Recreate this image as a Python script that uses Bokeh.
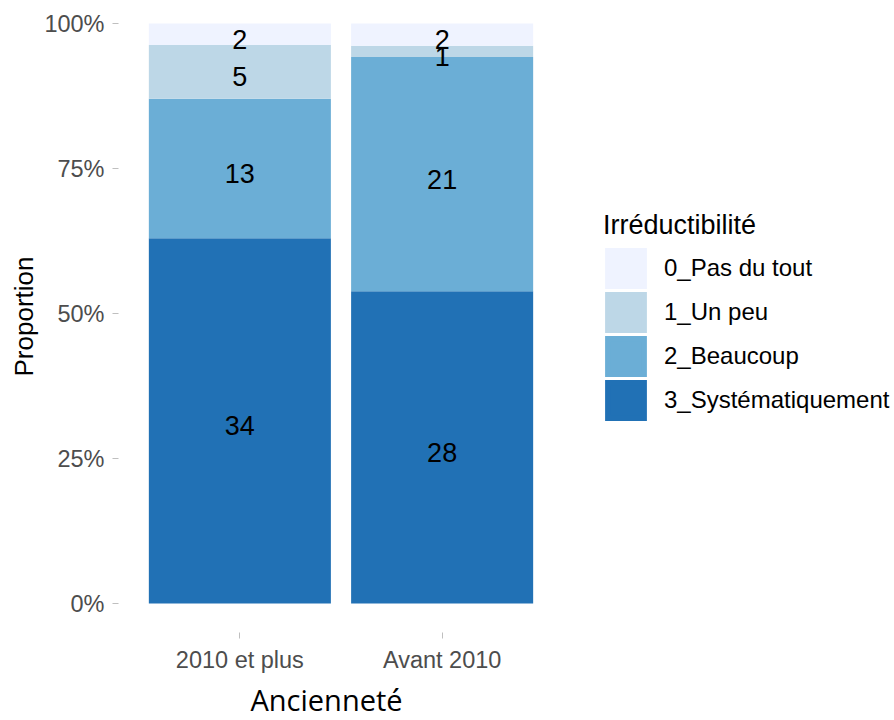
from bokeh.plotting import figure
from bokeh.models import (ColumnDataSource, FactorRange, Range1d, Legend, LegendItem,
                          NumeralTickFormatter, FixedTicker, Title)
from bokeh.embed import file_html
from bokeh.resources import INLINE
from bokeh.core.properties import value

# ---- data ----
anciennete = ["2010 et plus", "Avant 2010"]
niveaux = ["0_Pas du tout", "1_Un peu", "2_Beaucoup", "3_Systématiquement"]
pas_du_tout = [2, 2]
un_peu = [5, 1]
beaucoup = [13, 21]
systematiquement = [34, 28]
couleurs = ["#EFF3FF", "#BDD7E7", "#6BAED6", "#2171B5"]
y_ticks = [0, 0.25, 0.5, 0.75, 1.0]

# stacking order bottom -> top
series = [systematiquement, beaucoup, un_peu, pas_du_tout]
keys = ["s3", "s2", "s1", "s0"]
cols = [couleurs[3], couleurs[2], couleurs[1], couleurs[0]]

totals = [sum(s[i] for s in series) for i in range(len(anciennete))]
data = {"cat": anciennete}
lab_x, lab_y, lab_t = [], [], []
for k, s in zip(keys, series):
    data[k] = [s[i] / totals[i] for i in range(len(anciennete))]
for i, c in enumerate(anciennete):
    cum = 0.0
    for s in series:
        f = s[i] / totals[i]
        lab_x.append(c)
        lab_y.append(cum + f / 2)
        lab_t.append(str(s[i]))
        cum += f

src = ColumnDataSource(data)
lab_src = ColumnDataSource(dict(x=lab_x, y=lab_y, t=lab_t))

FONT = "Liberation Sans"

p = figure(x_range=FactorRange(factors=anciennete, range_padding=0.1),
           y_range=Range1d(-0.05, 1.0397),
           frame_width=445, frame_height=632,
           min_border_left=118, min_border_right=328, min_border_top=0, min_border_bottom=0,
           output_backend="svg", toolbar_location=None)

rs = p.vbar_stack(keys, x="cat", width=0.9, color=cols, line_color=None, source=src)

# hidden copies of the same stacked bars, used only to draw the legend swatches
rs_leg = p.vbar_stack(keys, x="cat", width=0.9, color=cols, line_width=5.8,
                      line_join="miter", source=src, visible=False)

p.text(x="x", y="y", text="t", source=lab_src, text_align="center", text_baseline="middle",
       y_offset=5, text_font=value(FONT), text_font_size="27px", text_color="black")

p.xgrid.grid_line_color = None
p.ygrid.grid_line_color = None
p.outline_line_color = None
p.background_fill_color = "white"

for ax in (p.xaxis[0], p.yaxis[0]):
    ax.axis_line_color = None
    ax.major_tick_line_color = "#BFBFBF"
    ax.major_tick_out = 6
    ax.major_tick_in = 0
    ax.minor_tick_line_color = None
    ax.major_label_text_font = FONT
    ax.major_label_text_font_size = "23.5px"
    ax.major_label_text_color = "#4D4D4D"
    ax.axis_label_text_font_style = "normal"
    ax.axis_label_text_color = "black"

p.yaxis[0].ticker = FixedTicker(ticks=y_ticks)
p.yaxis[0].formatter = NumeralTickFormatter(format="0%")
p.yaxis[0].major_label_standoff = 8
p.yaxis[0].axis_label = "Proportion"
p.yaxis[0].axis_label_text_font = FONT
p.yaxis[0].axis_label_text_font_size = "26px"
p.yaxis[0].axis_label_standoff = 2

p.xaxis[0].major_label_standoff = 8

xtitle = Title(text="Ancienneté", align="left", offset=132, standoff=4,
               text_font="Open Sans", text_font_size="29px", text_font_style="normal",
               text_color="black")
p.add_layout(xtitle, "below")

items = [LegendItem(label=niveaux[j], renderers=[rs_leg[3 - j]]) for j in range(4)]
legend = Legend(items=items, location=(40, 210), title="Irréductibilité",
                title_text_font=FONT, title_text_font_size="27px", title_text_font_style="normal",
                title_text_color="black", title_standoff=5,
                label_text_font=FONT, label_text_font_size="24px", label_text_color="black",
                glyph_width=45, glyph_height=44, spacing=0, label_standoff=16,
                padding=0, margin=0, border_line_color=None, background_fill_alpha=0)
p.add_layout(legend, "right")

open("out.html", "w").write(file_html(p, INLINE))
